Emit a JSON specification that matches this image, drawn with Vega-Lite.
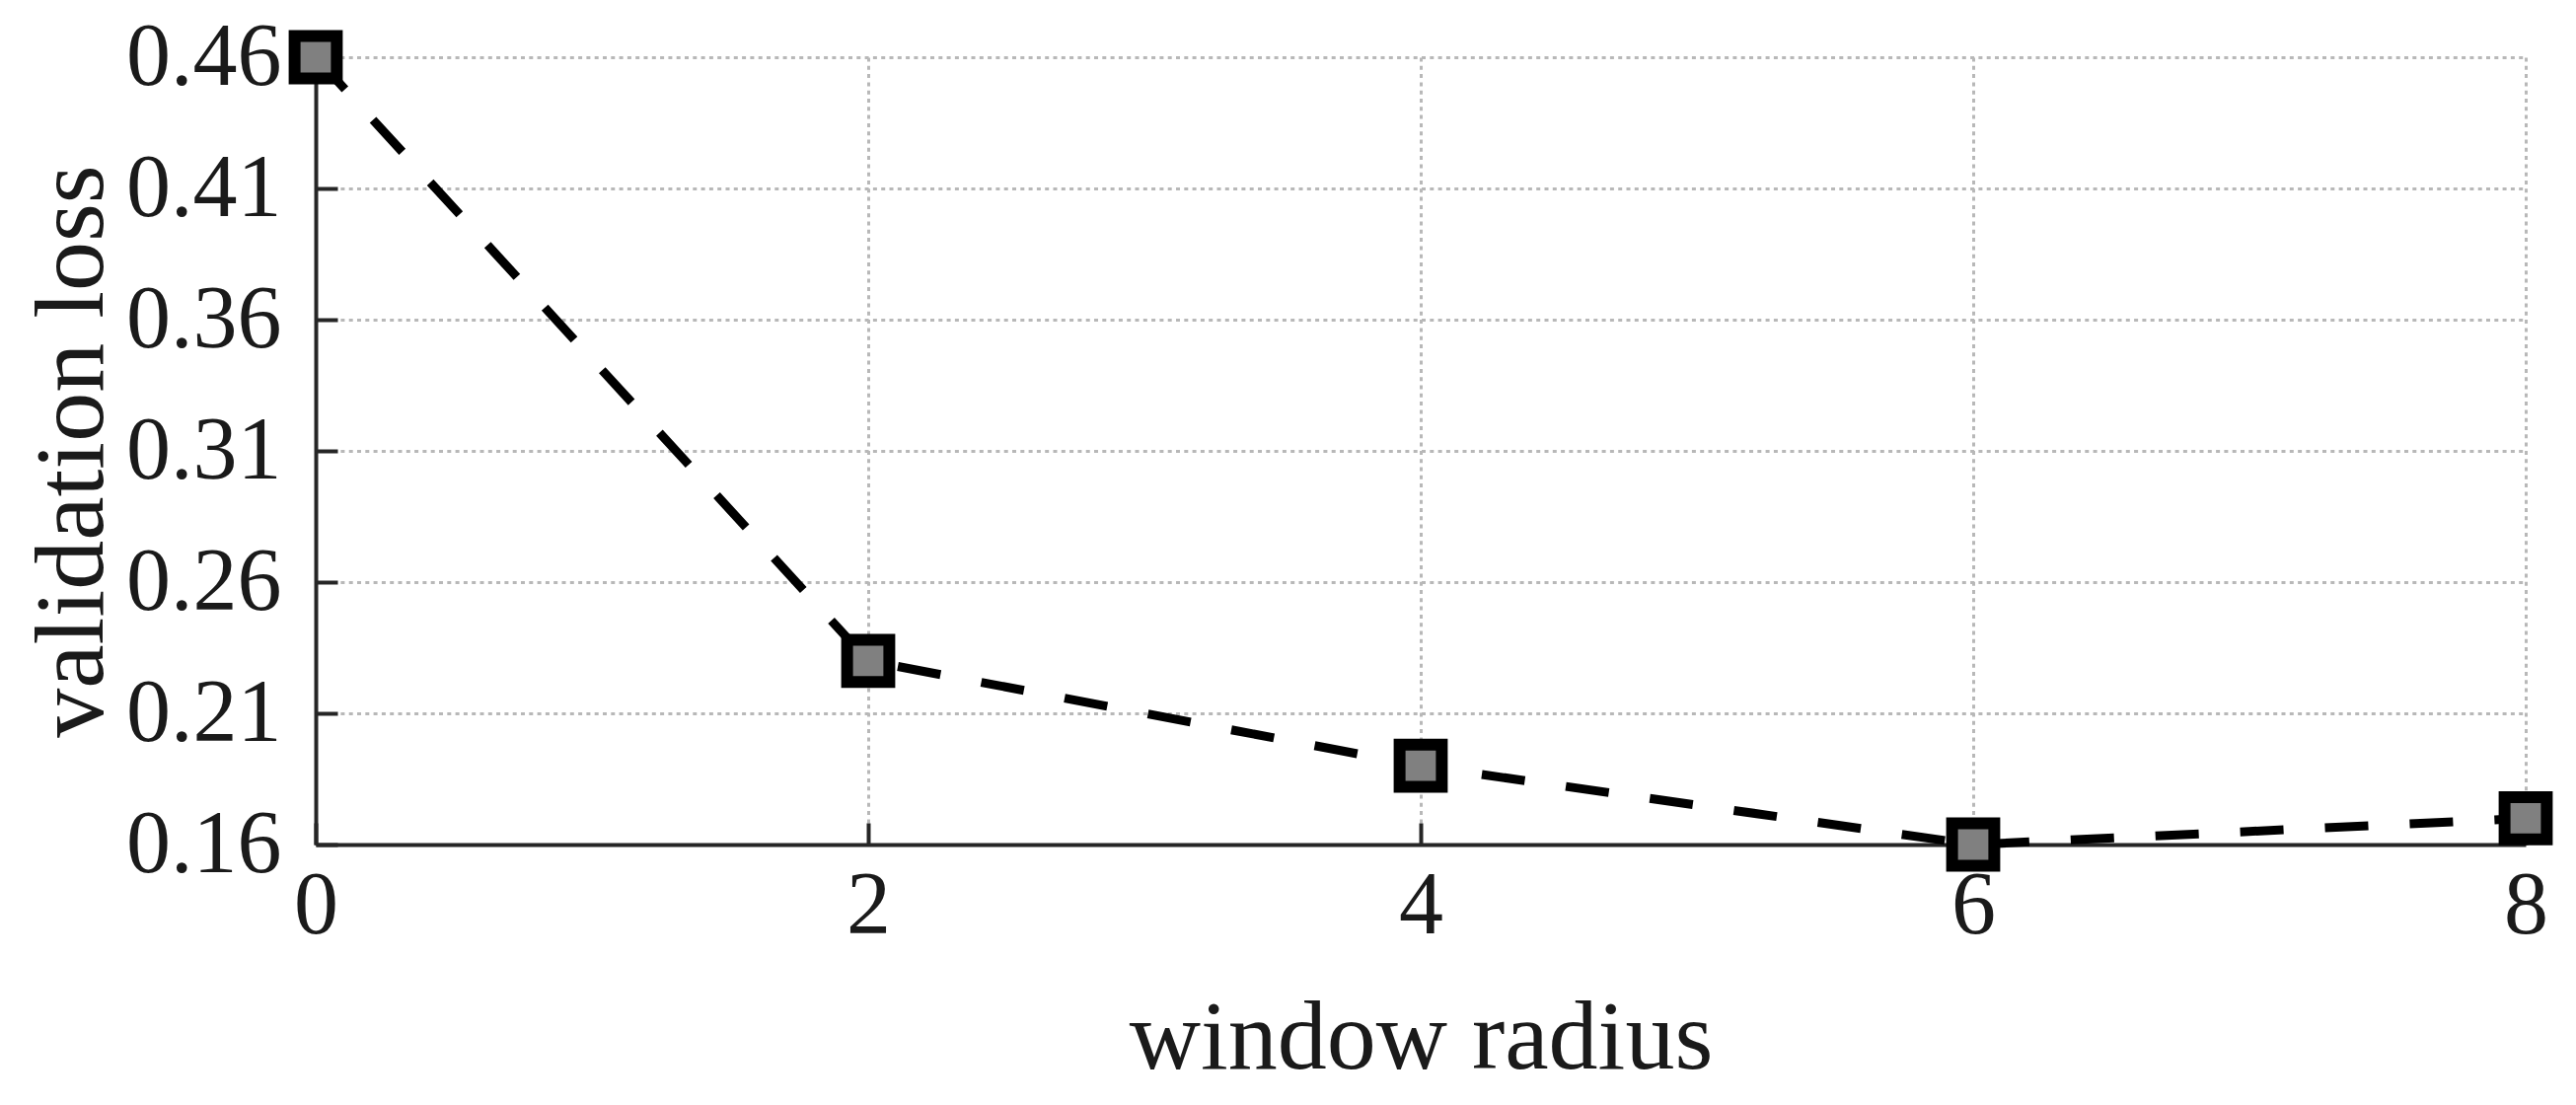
{
  "$schema": "https://vega.github.io/schema/vega-lite/v6.json",
  "autosize": "none",
  "width": 2240,
  "height": 798,
  "padding": {"left": 320, "top": 58, "right": 51, "bottom": 264},
  "background": "white",
  "config": {
    "view": {"stroke": null},
    "axis": {
      "labelFont": "Liberation Serif",
      "titleFont": "Liberation Serif",
      "labelFontSize": 90,
      "titleFontSize": 100,
      "labelColor": "#1a1a1a",
      "titleColor": "#1a1a1a",
      "titleFontWeight": "normal",
      "domainColor": "#262626",
      "domainWidth": 4,
      "tickColor": "#262626",
      "tickWidth": 4,
      "tickSize": -22,
      "gridColor": "#b8b8b8",
      "gridWidth": 3,
      "gridDash": [4, 4.3],
      "gridOpacity": 1
    }
  },
  "data": {
    "values": [
      {"radius": 0, "loss": 0.46},
      {"radius": 2, "loss": 0.23},
      {"radius": 4, "loss": 0.19},
      {"radius": 6, "loss": 0.16},
      {"radius": 8, "loss": 0.17}
    ]
  },
  "encoding": {
    "x": {
      "field": "radius",
      "type": "quantitative",
      "scale": {"domain": [0, 8], "nice": false, "zero": false},
      "axis": {
        "title": "window radius",
        "values": [0, 2, 4, 6, 8],
        "format": "d",
        "labelPadding": 40,
        "titlePadding": 40,
        "labelFlush": false,
        "grid": true
      }
    },
    "y": {
      "field": "loss",
      "type": "quantitative",
      "scale": {"domain": [0.16, 0.46], "nice": false, "zero": false},
      "axis": {
        "title": "validation loss",
        "values": [0.16, 0.21, 0.26, 0.31, 0.36, 0.41, 0.46],
        "format": ".2f",
        "labelPadding": 57,
        "titlePadding": 3,
        "labelFlush": false,
        "grid": true
      }
    }
  },
  "layer": [
    {
      "mark": {"type": "line", "color": "black", "strokeWidth": 9, "strokeDash": [44, 42], "clip": false}
    },
    {
      "mark": {"type": "point", "shape": "square", "filled": true, "fill": "#808080", "stroke": "black", "strokeWidth": 12, "size": 1830, "opacity": 1, "fillOpacity": 1, "strokeOpacity": 1, "clip": false}
    }
  ]
}
